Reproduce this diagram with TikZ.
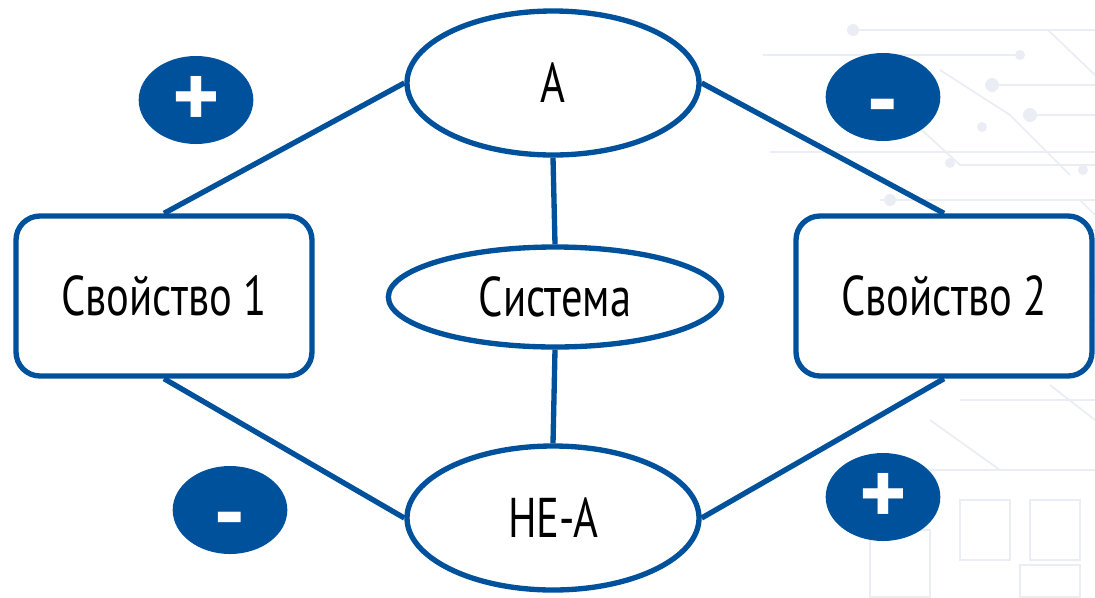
\documentclass[tikz,border=0pt]{standalone}
\usepackage{fontspec}
\setmainfont[FakeStretch=0.76]{PT Sans}
\newfontfamily\badgefont{PT Sans}
\usetikzlibrary{shapes.geometric}
\definecolor{mainblue}{RGB}{0,81,156}
\definecolor{faint}{RGB}{234,238,244}
\tikzset{
  conn/.style={draw=mainblue,line width=4pt},
  ell/.style={ellipse,draw=mainblue,line width=4pt,fill=white,inner sep=0pt,font=\fontsize{42}{48}\selectfont},
  propbox/.style={rectangle,rounded corners=18pt,draw=mainblue,line width=4pt,fill=white,inner sep=0pt,
    minimum width=222pt,minimum height=120pt,font=\fontsize{42}{48}\selectfont},
  badge/.style={ellipse,fill=mainblue,inner sep=0pt,minimum width=86pt,minimum height=66pt},
  plussign/.style={text=white,inner sep=0pt,font=\badgefont\bfseries\fontsize{68}{70}\selectfont,yshift=-1.5pt},
  minussign/.style={text=white,inner sep=0pt,font=\badgefont\bfseries\fontsize{68}{70}\selectfont,yshift=-13.5pt},
  bgline/.style={draw=faint,line width=1.3pt},
  bgdot/.style={fill=faint}
}
\begin{document}
\begin{tikzpicture}[x=0.75pt,y=-0.75pt]
\useasboundingbox[fill=white] (0,0) rectangle (1095,597);
% faint background circuit
\draw[bgline] (853,30) -- (1095,30);
\draw[bgline] (763,55) -- (1020,55);
\draw[bgline] (992,85) -- (1095,85);
\draw[bgline] (1030,115) -- (1095,115);
\draw[bgline] (770,152) -- (1095,152);
\draw[bgline] (1048,30) -- (1095,75);
\draw[bgline] (940,70) -- (1010,115) -- (1070,175);
\draw[bgline] (900,110) -- (960,165) -- (1095,165);
\draw[bgline] (880,200) -- (1095,200);
\draw[bgline] (1000,230) -- (1095,230);
\draw[bgline] (1080,200) -- (1095,215);
\fill[bgdot] (853,30) circle (6);
\fill[bgdot] (1020,55) circle (5);
\fill[bgdot] (992,85) circle (7);
\fill[bgdot] (1030,115) circle (7);
\fill[bgdot] (982,127) circle (5);
\fill[bgdot] (950,163) circle (5);
\fill[bgdot] (1083,170) circle (5);
\fill[bgdot] (890,200) circle (6);
\fill[bgdot] (1070,285) -- (1095,275) -- (1095,295) -- cycle;
\draw[bgline] (1010,320) -- (1095,320);
\draw[bgline] (880,470) -- (1095,470);
\draw[bgline] (960,400) -- (1095,400);
\draw[bgline] (1050,385) -- (1095,420);
\draw[bgline] (930,420) -- (1000,470);
\draw[bgline] (960,500) rectangle (1010,560);
\draw[bgline] (1030,500) rectangle (1080,560);
\draw[bgline] (870,530) rectangle (930,597);
\draw[bgline] (1020,565) rectangle (1080,597);
% nodes
\node[ell,minimum width=219pt,minimum height=108pt] (A) at (553,83) {A};
\node[ell,minimum width=250pt,minimum height=75pt] (S) at (555,297) {Система};
\node[ell,minimum width=219pt,minimum height=108pt] (NA) at (553,518) {НЕ-А};
\node[propbox] (P1) at (164,296) {Свойство 1};
\node[propbox] (P2) at (944,296) {Свойство 2};
\node[badge] (b1) at (196,100) {};
\node[badge] (b2) at (883,97) {};
\node[badge] (b3) at (230,510) {};
\node[badge] (b4) at (883,497) {};
\node[plussign] (t1) at (b1.center) {+};
\node[minussign] (t2) at (b2.center) {-};
\node[minussign] (t3) at (b3.center) {-};
\node[plussign] (t4) at (b4.center) {+};
% connectors
\draw[conn] (P1.north) -- (A.west);
\draw[conn] (A.east) -- (P2.north);
\draw[conn] (P1.south) -- (NA.west);
\draw[conn] (NA.east) -- (P2.south);
\draw[conn] (A.south) -- (S.north);
\draw[conn] (S.south) -- (NA.north);
\end{tikzpicture}
\end{document}
